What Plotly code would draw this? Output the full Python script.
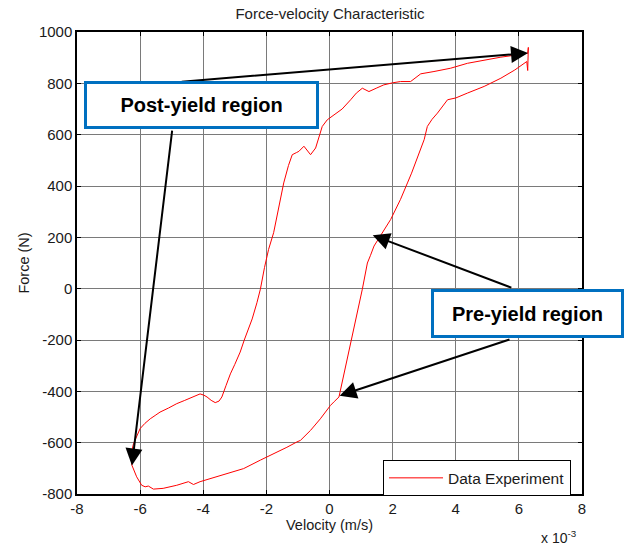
import plotly.graph_objects as go

# Velocity in units of 1e-3 m/s, force in N
velocity = [-6.29, -6.26, -6.21, -6.10, -6.00, -5.85, -5.68, -5.50, -5.37, -5.10, -4.84, -4.60, -4.31, -4.10,
            -3.98, -3.88, -3.75, -3.62, -3.50, -3.41, -3.28, -3.14, -3.00, -2.83, -2.70, -2.61, -2.45, -2.30,
            -2.19, -2.06, -1.93, -1.77, -1.61, -1.45, -1.30, -1.18, -1.05, -0.97, -0.81, -0.70, -0.60, -0.44,
            -0.23, -0.07, 0.14, 0.40, 0.67, 0.85, 1.04, 1.15, 1.25, 1.50, 1.72, 2.00, 2.25, 2.57, 2.75, 2.89,
            3.31, 3.84, 4.37, 4.90, 5.43, 5.96, 6.28, 6.30, 6.28, 6.25,
            5.87, 5.43, 4.90, 4.37, 4.00, 3.74, 3.63, 3.42, 3.25, 3.10, 3.00, 2.85, 2.73, 2.60, 2.47, 2.25,
            1.94, 1.67, 1.41, 1.30, 1.20, 1.04, 0.83, 0.67, 0.45, 0.30, 0.15, 0.03, -0.29, -0.60, -0.92,
            -1.03, -1.35, -1.66, -2.19, -2.72, -3.25, -3.78, -4.10, -4.31, -4.47, -4.84, -5.27, -5.58, -5.74,
            -5.84, -5.95, -6.11, -6.26, -6.29]
force = [-660, -630, -604, -575, -545, -525, -507, -492, -481, -465, -448, -436, -420, -410,
         -415, -422, -435, -444, -438, -422, -378, -332, -295, -247, -200, -169, -118, -55,
         -2, 82, 153, 218, 322, 412, 480, 522, 530, 535, 555, 538, 522, 548,
         632, 658, 678, 700, 736, 762, 781, 775, 768, 782, 794, 802, 807, 807, 825, 837,
         846, 859, 878, 891, 902, 911, 917, 940, 850, 885,
         852, 820, 788, 762, 743, 736, 717, 684, 660, 632, 581, 530, 490, 450, 412, 348,
         270, 218, 166, 130, 100, -2, -118, -209, -338, -422, -440, -455, -507, -552, -591,
         -597, -618, -636, -668, -701, -720, -740, -752, -763, -752, -766, -778, -781, -769,
         -772, -766, -733, -688, -660]

x_ticks = [-8, -6, -4, -2, 0, 2, 4, 6, 8]
y_ticks = [-800, -600, -400, -200, 0, 200, 400, 600, 800, 1000]

# Annotation arrows: (tip_x, tip_y, tail_x, tail_y)
post_arrows = [(6.29, 918, -4.73, 806), (-6.26, -689, -4.98, 622)]
pre_arrows = [(1.37, 208, 5.81, 2), (0.32, -417, 5.75, -196)]

font = "Liberation Sans, Arial, sans-serif"
narrow = "Liberation Sans Narrow, Arial Narrow, Liberation Sans, Arial, sans-serif"

fig = go.Figure()
fig.add_trace(go.Scatter(x=velocity, y=force, mode="lines", name="Data Experiment",
                         line=dict(color="#ff0000", width=1)))

annotations = []
for (tx, ty, sx, sy) in post_arrows + pre_arrows:
    annotations.append(dict(x=tx, y=ty, ax=sx, ay=sy, xref="x", yref="y", axref="x", ayref="y",
                            text="", showarrow=True, arrowhead=2, arrowsize=1.7, arrowwidth=2,
                            arrowcolor="black", standoff=0))
annotations.append(dict(x=-4.06, y=715, xref="x", yref="y", text="<b>Post-yield region</b>",
                        showarrow=False, font=dict(family=narrow, size=20, color="black"),
                        bgcolor="white", bordercolor="#0070c0", borderwidth=3, borderpad=0,
                        width=229, height=42, align="center", valign="middle"))
annotations.append(dict(x=6.28, y=-98, xref="x", yref="y", text="<b>Pre-yield region</b>",
                        showarrow=False, font=dict(family=narrow, size=20, color="black"),
                        bgcolor="white", bordercolor="#0070c0", borderwidth=3, borderpad=0,
                        width=187, height=43, align="center", valign="middle"))
annotations.append(dict(x=0.914, y=-0.093, xref="paper", yref="paper", text="x 10<sup>-3</sup>",
                        showarrow=False, xanchor="left", yanchor="middle",
                        font=dict(family=font, size=14, color="#1a1a1a")))

fig.update_layout(
    width=625, height=546,
    margin=dict(l=77, r=43, t=32, b=52),
    paper_bgcolor="white", plot_bgcolor="white",
    font=dict(family=font, size=14, color="#1a1a1a"),
    title=dict(text="Force-velocity Characteristic", x=0.528, xanchor="center", y=0.975, yanchor="middle",
               font=dict(family=font, size=15, color="#222")),
    annotations=annotations,
    showlegend=True,
    legend=dict(x=0.606, y=0.073, xanchor="left", yanchor="top", bgcolor="white",
                bordercolor="black", borderwidth=1, font=dict(family=font, size=15.5, color="#1a1a1a"),
                itemwidth=54, tracegroupgap=0),
)
fig.update_xaxes(range=[-8, 8], tickvals=x_ticks, ticktext=[str(v) for v in x_ticks],
                 tickfont=dict(size=15),
                 showgrid=True, gridcolor="#7a7a7a", gridwidth=1, zeroline=False,
                 showline=True, linecolor="black", linewidth=1.5, mirror="ticks",
                 ticks="inside", ticklen=4, tickcolor="black",
                 title=dict(text="Velocity (m/s)", standoff=4, font=dict(size=14.5)))
fig.update_yaxes(range=[-800, 1000], tickvals=y_ticks, ticktext=[str(v) for v in y_ticks],
                 tickfont=dict(size=15),
                 showgrid=True, gridcolor="#7a7a7a", gridwidth=1, zeroline=False,
                 showline=True, linecolor="black", linewidth=1.5, mirror="ticks",
                 ticks="inside", ticklen=4, tickcolor="black",
                 title=dict(text="Force (N)", standoff=6, font=dict(size=14.5)))

fig.write_html("out.html")
